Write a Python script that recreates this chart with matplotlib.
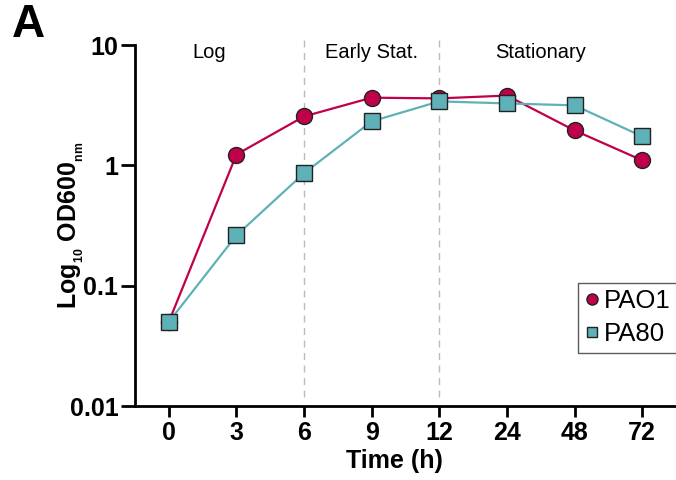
import matplotlib
matplotlib.use("Agg")
import matplotlib.pyplot as plt
from matplotlib.lines import Line2D

time_labels = ["0", "3", "6", "9", "12", "24", "48", "72"]
pao1 = [0.05, 1.23, 2.55, 3.65, 3.6, 3.8, 1.95, 1.1]
pa80 = [0.05, 0.262, 0.86, 2.32, 3.4, 3.27, 3.15, 1.74]
phase_labels = ["Log", "Early Stat.", "Stationary"]
phase_pos = [0.6, 3.0, 5.5]
phase_bounds = [2, 4]

plt.rcParams['font.family'] = ['Liberation Sans', 'DejaVu Sans']
plt.rcParams['mathtext.fontset'] = 'custom'
plt.rcParams['mathtext.rm'] = 'Liberation Sans'
plt.rcParams['mathtext.bf'] = 'Liberation Sans:bold'
plt.rcParams['mathtext.default'] = 'regular'

fig = plt.figure(figsize=(6.76, 4.8), dpi=100)
ax = fig.add_axes([135/676, 1-406/480, 1-135/676, (406-45)/480])

red = "#C0004A"
teal = "#5FB1B8"
x = list(range(len(time_labels)))

ax.plot(x, pa80, color=teal, lw=1.6, marker='s', ms=11, mfc=teal, mec='#222222', mew=1.0, zorder=3, label='PA80')
ax.plot(x, pao1, color=red, lw=1.6, marker='o', ms=11.5, mfc=red, mec='#222222', mew=1.0, zorder=2, label='PAO1')

for b in phase_bounds:
    ax.axvline(b, ymin=0.025, ymax=1.02, color='#BBBBBB', lw=1.0, ls=(0, (5, 4)), clip_on=False, zorder=1)

for t, p in zip(phase_labels, phase_pos):
    ax.text(p, 8.7, t, ha='center', va='center', fontsize=14.5)

ax.set_yscale('log')
ax.set_ylim(0.01, 10)
ax.set_xlim(-0.5, 7.5)
ax.set_xticks(x)
ax.set_xticklabels(time_labels)
ax.set_yticks([0.01, 0.1, 1, 10])
ax.set_yticklabels(["0.01", "0.1", "1", "10"])
ax.yaxis.set_minor_locator(matplotlib.ticker.NullLocator())

for s in ['top', 'right']:
    ax.spines[s].set_visible(False)
for s in ['left', 'bottom']:
    ax.spines[s].set_linewidth(2)

ax.tick_params(axis='both', width=2, labelsize=18)
ax.tick_params(axis='y', length=10, pad=2)
ax.tick_params(axis='x', length=8, pad=3)
for lab in ax.get_xticklabels() + ax.get_yticklabels():
    lab.set_fontweight('bold')

ax.set_xlabel("Time (h)", fontsize=18, fontweight='bold')
ax.xaxis.set_label_coords(0.479, -0.118)
ax.set_ylabel(r"Log$_{_{10}}$ OD600$_{_{nm}}$", fontsize=18, fontweight='bold')
ax.yaxis.set_label_coords(-0.09, 0.50)

handles = [Line2D([], [], color=red, marker='o', ls='none', ms=8, mfc=red, mec='#222222', mew=1.0),
           Line2D([], [], color=teal, marker='s', ls='none', ms=7.5, mfc=teal, mec='#222222', mew=1.0)]
leg = fig.legend(handles, ["PAO1", "PA80"], loc='upper left', bbox_to_anchor=(578/676, 1-283/480),
                 fontsize=18.5, frameon=True, fancybox=False, edgecolor='#333333', handlelength=0.6,
                 handletextpad=0.15, borderpad=0.25, labelspacing=0.35, borderaxespad=0)
leg.get_frame().set_linewidth(1.0)

fig.text(12/676, 1-25/480, "A", fontsize=33, fontweight='bold', va='center', ha='left')

fig.savefig("out.png", dpi=100)
